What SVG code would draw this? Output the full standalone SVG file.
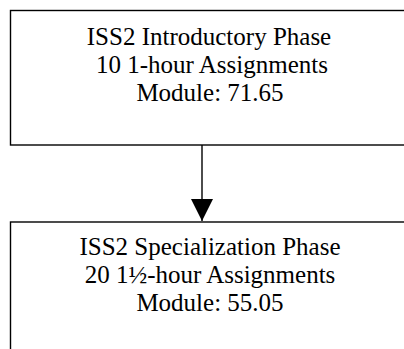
<svg xmlns="http://www.w3.org/2000/svg" width="404" height="349" viewBox="0 0 404 349">
<defs>
<style>
.box{fill:#fff;stroke:#000;stroke-width:1.4}
.t{font-family:"Liberation Serif","Times New Roman",serif;font-size:25px;fill:#000;text-anchor:middle}
.c{stroke:#000;stroke-width:1.4;fill:none}
</style>
<marker id="ah" markerUnits="userSpaceOnUse" markerWidth="22" markerHeight="22" viewBox="0 0 20 20" refX="20" refY="10" orient="auto">
<path d="M0,0 L20,10 L0,20 Z" fill="#000"/>
</marker>
</defs>
<g id="connectors">
<line class="c" x1="202" y1="145" x2="202" y2="221" marker-end="url(#ah)"/>
</g>
<g id="node-introductory">
<rect class="box" x="10.5" y="10.5" width="400" height="134.5"/>
<text class="t" x="209" y="45">ISS2 Introductory Phase</text>
<text class="t" x="212" y="73">10 1-hour Assignments</text>
<text class="t" x="210" y="101">Module: 71.65</text>
</g>
<g id="node-specialization">
<rect class="box" x="10.5" y="222" width="400" height="200"/>
<text class="t" x="210" y="255">ISS2 Specialization Phase</text>
<text class="t" x="210" y="283">20 1½-hour Assignments</text>
<text class="t" x="210" y="311">Module: 55.05</text>
</g>
</svg>
